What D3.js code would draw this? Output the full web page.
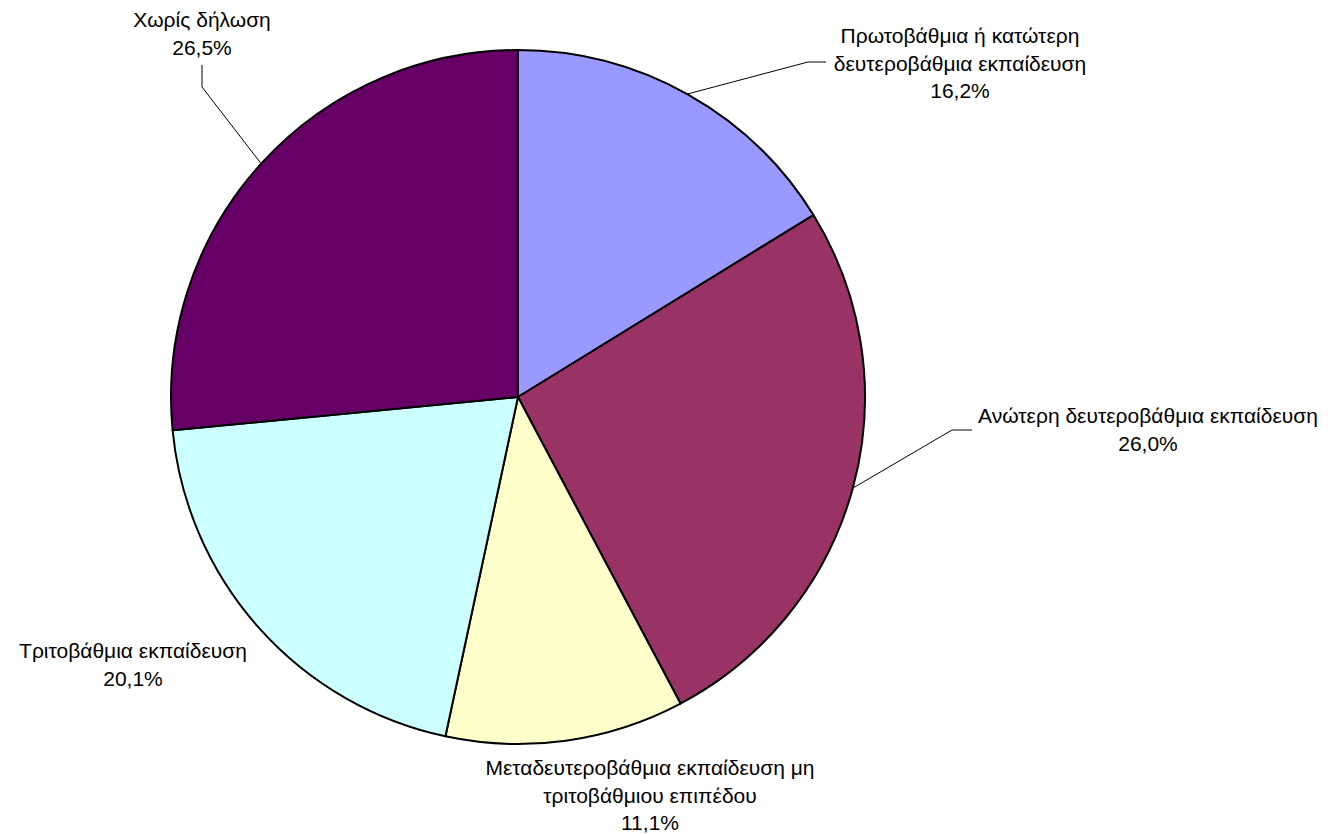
<!DOCTYPE html>
<html>
<head>
    <meta charset="utf-8">
    <title>Εκπαίδευση</title>
    <script src="https://d3js.org/d3.v7.min.js"></script>
    <style>
        body { margin: 0; background: #fff; }
        #chart { width: 1332px; height: 834px; }
        text { font-family: "Liberation Sans", Arial, sans-serif; font-size: 21px; fill: #000; }
    </style>
</head>
<body>
<div id="chart"></div>
<script>
// data
const categories = [
    "Πρωτοβάθμια ή κατώτερη δευτεροβάθμια εκπαίδευση",
    "Ανώτερη δευτεροβάθμια εκπαίδευση",
    "Μεταδευτεροβάθμια εκπαίδευση μη τριτοβάθμιου επιπέδου",
    "Τριτοβάθμια εκπαίδευση",
    "Χωρίς δήλωση"
];
const values = [16.2, 26.0, 11.1, 20.1, 26.5];
const valueLabels = ["16,2%", "26,0%", "11,1%", "20,1%", "26,5%"];
// how each label wraps
const labelLines = [
    ["Πρωτοβάθμια ή κατώτερη", "δευτεροβάθμια εκπαίδευση"],
    ["Ανώτερη δευτεροβάθμια εκπαίδευση"],
    ["Μεταδευτεροβάθμια εκπαίδευση μη", "τριτοβάθμιου επιπέδου"],
    ["Τριτοβάθμια εκπαίδευση"],
    ["Χωρίς δήλωση"]
];
const colors = ["#9999FF", "#993366", "#FFFFCC", "#CCFFFF", "#660066"];

// layout for labels: text centre x, first line y, leader elbow (null = no leader)
const labelLayout = [
    { x: 960, y: 35, elbow: [808, 62], end: [826, 62] },
    { x: 1148, y: 415, elbow: [952, 430], end: [972, 430] },
    { x: 650, y: 767, elbow: null },
    { x: 133, y: 650, elbow: null },
    { x: 202, y: 19, elbow: [202, 87], end: [202, 65] }
];

const width = 1332, height = 834;
const cx = 518, cy = 397, radius = 347;
const lineH = 27.5;

const svg = d3.select("#chart").append("svg")
    .attr("width", width)
    .attr("height", height);

const pie = d3.pie().sort(null).value(d => d);
const arcs = pie(values);
const arc = d3.arc().innerRadius(0).outerRadius(radius);

const g = svg.append("g").attr("transform", `translate(${cx},${cy})`);

g.selectAll("path")
    .data(arcs)
    .join("path")
    .attr("d", arc)
    .attr("fill", (d, i) => colors[i])
    .attr("stroke", "#000")
    .attr("stroke-width", 2)
    .attr("stroke-linejoin", "round");

// leader lines
arcs.forEach((d, i) => {
    const L = labelLayout[i];
    if (!L.elbow) return;
    const a = (d.startAngle + d.endAngle) / 2;
    const p0 = [cx + radius * Math.sin(a), cy - radius * Math.cos(a)];
    svg.append("polyline")
        .attr("points", [p0, L.elbow, L.end].map(p => p.join(",")).join(" "))
        .attr("fill", "none")
        .attr("stroke", "#000")
        .attr("stroke-width", 1);
});

// labels
categories.forEach((c, i) => {
    const L = labelLayout[i];
    const lines = labelLines[i].concat([valueLabels[i]]);
    const t = svg.append("text")
        .attr("text-anchor", "middle")
        .attr("x", L.x)
        .attr("y", L.y)
        .attr("dominant-baseline", "central");
    lines.forEach((ln, j) => {
        t.append("tspan")
            .attr("x", L.x)
            .attr("y", L.y + j * lineH)
            .text(ln);
    });
});
</script>
</body>
</html>
